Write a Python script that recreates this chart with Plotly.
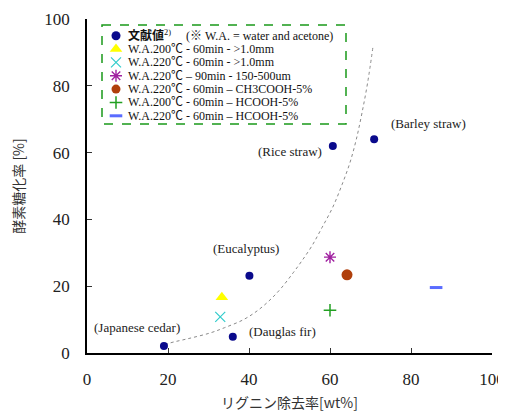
import plotly.graph_objects as go

# ---- data ----
lit_x = [19.0, 36.0, 40.1, 60.7, 70.9]
lit_y = [2.1, 4.9, 23.1, 62.0, 64.0]
lit_names = ["(Japanese cedar)", "(Dauglas fir)", "(Eucalyptus)", "(Rice straw)", "(Barley straw)"]

s1_x, s1_y = [33.3], [16.7]   # W.A.200℃ - 60min - >1.0mm
s2_x, s2_y = [32.9], [10.8]   # W.A.220℃ - 60min - >1.0mm
s3_x, s3_y = [60.0], [28.7]   # W.A.220℃ – 90min - 150-500um
s4_x, s4_y = [64.2], [23.4]   # W.A.220℃ - 60min – CH3COOH-5%
s5_x, s5_y = [60.0], [12.8]   # W.A.200℃ - 60min – HCOOH-5%
s6_x, s6_y = [86.2], [19.6]   # W.A.220℃ - 60min – HCOOH-5%

curve_x = [19.3, 20.5, 25, 30.4, 34, 38.5, 42, 45.2, 48, 50.9, 53, 55.5, 58, 60.7, 63, 64.9, 66.5, 67.9, 69.3, 70.6]
curve_y = [2.4, 3.0, 4.3, 6.0, 7.6, 9.9, 12.6, 15.9, 19.5, 24, 27.5, 32, 37.5, 43.7, 50.5, 56.9, 64, 71.9, 81, 91.6]

legend_labels = [
    "<b>文献値</b><sup>2)</sup>　 (※ W.A. = water and acetone)",
    "W.A.200℃ - 60min - >1.0mm",
    "W.A.220℃ - 60min - >1.0mm",
    "W.A.220℃ – 90min - 150-500um",
    "W.A.220℃ - 60min – CH3COOH-5%",
    "W.A.200℃ - 60min – HCOOH-5%",
    "W.A.220℃ - 60min – HCOOH-5%",
]

x_ticks = [0, 20, 40, 60, 80, 100]
y_ticks = [0, 20, 40, 60, 80, 100]

# ---- styles ----
SERIF = "Liberation Serif, Noto Sans CJK JP, serif"
styles = [
    dict(symbol="circle", size=8, color="#0a0a8c", line=dict(width=0)),
    dict(symbol="triangle-up", size=11, color="#ffff00", line=dict(width=0)),
    dict(symbol="x-thin-open", size=10, color="#33cccc", line=dict(width=1.2, color="#33cccc")),
    dict(symbol="asterisk-open", size=10, color="#a020a0", line=dict(width=1.4, color="#a020a0")),
    dict(symbol="circle", size=11, color="#b0400c", line=dict(width=0)),
    dict(symbol="cross-thin-open", size=9, color="#22a022", line=dict(width=1.5, color="#22a022")),
    dict(symbol="line-ew-open", size=9, color="#5a6cff", line=dict(width=3, color="#5a6cff")),
]

series = [(lit_x, lit_y), (s1_x, s1_y), (s2_x, s2_y), (s3_x, s3_y),
          (s4_x, s4_y), (s5_x, s5_y), (s6_x, s6_y)]

fig = go.Figure()

fig.add_trace(go.Scatter(x=curve_x, y=curve_y, mode="lines",
                         line=dict(color="#8a8a8a", width=1, dash="dot", shape="spline"),
                         hoverinfo="skip", showlegend=False))

for (sx, sy), st, lab in zip(series, styles, legend_labels):
    fig.add_trace(go.Scatter(x=sx, y=sy, mode="markers", marker=st,
                             name=lab, showlegend=False))

# labels for literature points (offsets in pixels)
offsets = [(-27, 18), (50, 5), (-3, 27), (-43, -6), (54, 16)]
for x, y, t, (dx, dy) in zip(lit_x, lit_y, lit_names, offsets):
    fig.add_annotation(x=x, y=y, text=t, showarrow=False, xshift=dx, yshift=dy,
                       font=dict(family=SERIF, size=13, color="#222222"))

# ---- geometry (screen pixels); page body has an 8px margin ----
OFF = 8
W, H = 506 - OFF, 412 - OFF
L, R, T, B = 87, 492, 19, 353   # plot area in screen pixels

# ---- manual legend on a pixel-coordinate overlay axis ----
row0, row_gap = 35.7, 13.35
mk_x, txt_x = 116, 126
for i, (st, lab) in enumerate(zip(styles, legend_labels)):
    ry = row0 + i * row_gap
    st2 = dict(st)
    if st2["symbol"] == "circle":
        st2["size"] = 9
    fig.add_trace(go.Scatter(x=[mk_x], y=[ry], mode="markers", marker=st2,
                             xaxis="x2", yaxis="y2", showlegend=False, hoverinfo="skip"))
    fig.add_annotation(x=txt_x, y=ry, xref="x2", yref="y2", text=lab, showarrow=False,
                       xanchor="left", yanchor="middle",
                       font=dict(family=SERIF, size=12, color="#111111"))

fig.add_shape(type="rect", xref="x2", yref="y2", x0=102, x1=346, y0=25, y1=124,
              line=dict(color="#1a991a", width=1.5, dash="dash"), fillcolor="rgba(0,0,0,0)")

fig.update_layout(
    width=W, height=H,
    margin=dict(l=L - OFF, r=OFF + W - R, t=T - OFF, b=OFF + H - B, autoexpand=False),
    paper_bgcolor="white", plot_bgcolor="white",
    showlegend=False,
    font=dict(family=SERIF, color="#111111"),
    xaxis=dict(range=[0, 100], tickvals=x_ticks, ticks="inside", ticklen=5,
               tickcolor="#333", showgrid=False, zeroline=False,
               showline=True, linecolor="black", linewidth=1.5,
               tickfont=dict(family=SERIF, size=17, color="#222"),
               ticklabelstandoff=10, automargin=False,
               title=dict(text="リグニン除去率[wt%]",
                          font=dict(family="Noto Sans CJK JP", size=14, color="#333"),
                          standoff=12)),
    yaxis=dict(range=[0, 100], tickvals=y_ticks, ticks="inside", ticklen=5,
               tickcolor="#333", showgrid=False, zeroline=False,
               showline=True, linecolor="black", linewidth=1.5,
               tickfont=dict(family=SERIF, size=17, color="#222"),
               ticklabelstandoff=12, automargin=False,
               title=dict(text="酵素糖化率 [%]",
                          font=dict(family="Noto Sans CJK JP", size=14, color="#333"),
                          standoff=16)),
    xaxis2=dict(range=[L, R], domain=[0, 1], anchor="y2", overlaying="x",
                visible=False, fixedrange=True),
    yaxis2=dict(range=[B, T], domain=[0, 1], anchor="x2", overlaying="y",
                visible=False, fixedrange=True),
)

fig.write_html("out.html", post_script=(
    "document.documentElement.style.overflow='hidden';"
    "document.body.style.overflow='hidden';"
    "var s=document.querySelectorAll('svg.main-svg');"
    "for(var i=0;i<s.length;i++){s[i].style.overflow='visible';}"
))
